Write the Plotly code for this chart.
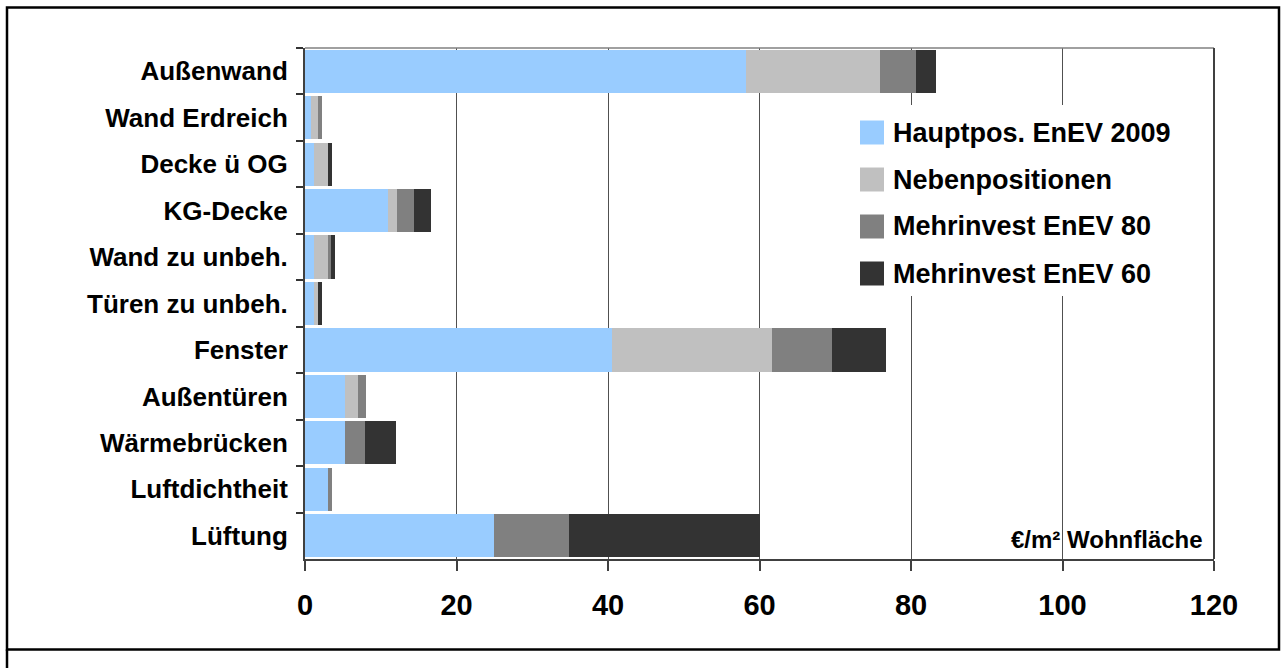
import plotly.graph_objects as go

# Building components and cost shares (€/m² living area)
categories = ["Außenwand", "Wand Erdreich", "Decke ü OG", "KG-Decke", "Wand zu unbeh.",
              "Türen zu unbeh.", "Fenster", "Außentüren", "Wärmebrücken",
              "Luftdichtheit", "Lüftung"]
series_names = ["Hauptpos. EnEV 2009", "Nebenpositionen", "Mehrinvest EnEV 80", "Mehrinvest EnEV 60"]
hauptpos = [58.2, 0.8, 1.2, 10.9, 1.2, 1.2, 40.5, 5.3, 5.3, 3.0, 25.0]
nebenpos = [17.7, 0.9, 1.8, 1.3, 1.8, 0.5, 21.2, 1.7, 0.0, 0.0, 0.0]
mehr_80 = [4.8, 0.5, 0.0, 2.2, 0.4, 0.0, 7.9, 1.0, 2.6, 0.5, 9.8]
mehr_60 = [2.6, 0.0, 0.5, 2.2, 0.6, 0.5, 7.1, 0.0, 4.1, 0.0, 25.2]
x_ticks = [0, 20, 40, 60, 80, 100, 120]
unit_label = "€/m² Wohnfläche"

colors = ["#99CCFF", "#C0C0C0", "#808080", "#333333"]
FONT = "Liberation Sans, Arial, sans-serif"

W, H = 1282, 668
L, R, T, B = 305, 1214, 48, 559  # plot area in pixels


def px(x):
    return (x - L) / (R - L)


def py(y):
    return (B - y) / (B - T)


fig = go.Figure()
for name, vals, col in zip(series_names, [hauptpos, nebenpos, mehr_80, mehr_60], colors):
    fig.add_trace(go.Bar(
        y=categories, x=vals, name=name, orientation="h",
        marker=dict(color=col, line=dict(width=0)),
        showlegend=False,
    ))

shapes = []
# outer frame
shapes.append(dict(type="rect", xref="paper", yref="paper",
                   x0=px(7), x1=px(1279), y0=py(7.5), y1=py(649.5),
                   line=dict(color="black", width=2.5), fillcolor="rgba(0,0,0,0)", layer="above"))
shapes.append(dict(type="line", xref="paper", yref="paper",
                   x0=px(7), x1=px(7), y0=py(649.5), y1=py(668),
                   line=dict(color="black", width=2.5), layer="above"))
# plot area top and right edges
shapes.append(dict(type="line", xref="paper", yref="paper",
                   x0=0, x1=1, y0=1, y1=1, line=dict(color="#808080", width=1.5), layer="above"))
shapes.append(dict(type="line", xref="paper", yref="paper",
                   x0=1, x1=1, y0=0, y1=1, line=dict(color="#404040", width=2), layer="above"))
# legend background
shapes.append(dict(type="rect", xref="paper", yref="paper",
                   x0=px(850), x1=px(1206), y0=py(105), y1=py(296),
                   line=dict(width=0), fillcolor="white", layer="above"))

annotations = []
leg_y = [132.5, 179.5, 226.5, 273.5]
for name, col, yc in zip(series_names, colors, leg_y):
    shapes.append(dict(type="rect", xref="paper", yref="paper",
                       x0=px(860), x1=px(884), y0=py(yc - 12), y1=py(yc + 12),
                       line=dict(width=0), fillcolor=col, layer="above"))
    annotations.append(dict(xref="paper", yref="paper", x=px(891), y=py(yc),
                            xanchor="left", yanchor="middle", showarrow=False,
                            text=name, font=dict(family=FONT, size=27, color="black", weight="bold")))

annotations.append(dict(xref="paper", yref="paper", x=px(1205), y=py(539),
                        xanchor="right", yanchor="middle", showarrow=False,
                        text=unit_label, font=dict(family=FONT, size=24, color="black", weight="bold")))

fig.update_layout(
    width=W, height=H,
    margin=dict(l=L, r=W - R, t=T, b=H - B, pad=0),
    barmode="stack", bargap=0.07,
    paper_bgcolor="white", plot_bgcolor="white",
    font=dict(family=FONT, color="black"),
    shapes=shapes, annotations=annotations,
    showlegend=False,
    xaxis=dict(range=[0, 120], tickvals=x_ticks, ticks="outside", ticklen=10,
               tickcolor="#404040", tickwidth=1.5,
               showline=True, linecolor="#404040", linewidth=2,
               showgrid=True, gridcolor="#505050", gridwidth=1, zeroline=False,
               tickfont=dict(family=FONT, size=29, color="black", weight="bold"),
               ticklabelstandoff=9),
    yaxis=dict(type="category", categoryorder="array", categoryarray=categories,
               autorange="reversed", tickson="boundaries", ticks="outside", ticklen=7,
               tickcolor="#333333", tickwidth=1.5,
               showline=True, linecolor="#404040", linewidth=2, showgrid=False,
               tickfont=dict(family=FONT, size=26, color="black", weight="bold"),
               ticklabelstandoff=10),
)

fig.write_html("out.html")
